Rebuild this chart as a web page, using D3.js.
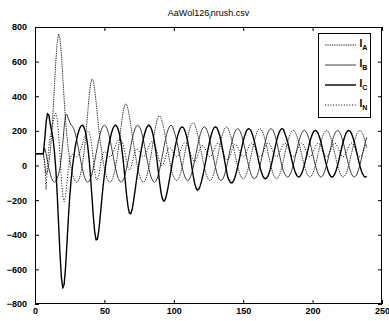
<!DOCTYPE html>
<html><head><meta charset="utf-8">
<script src="https://cdn.jsdelivr.net/npm/d3@7"></script>
<style>body{margin:0;background:#fff}svg{display:block}text{font-family:"Liberation Sans",Arial,sans-serif}</style>
</head><body><svg id="c" width="389" height="321"></svg>
<script>
// sample index = position in array (0..239)
const iA=[
68,68,68,68,68,68,68,10,-50,-38,
12,84,180,308,455,601,712,760,734,643,
515,382,263,170,95,36,-15,-49,-75,-91,
-97,-91,-75,-44,-1,55,125,212,307,398,
468,500,490,440,367,286,208,141,82,30,
-15,-49,-75,-91,-97,-91,-75,-46,-9,39,
95,158,224,285,331,355,353,327,284,232,
178,125,74,28,-15,-49,-75,-91,-97,-91,
-75,-48,-12,31,80,132,183,229,264,283,
286,271,243,206,163,117,71,26,-15,-49,
-66,-82,-87,-82,-66,-42,-9,31,73,117,
160,198,226,243,247,238,216,187,151,111,
69,28,-10,-42,-66,-82,-87,-82,-66,-42,
-10,28,68,108,146,178,202,218,223,218,
194,171,141,106,68,30,-5,-35,-58,-72,
-77,-72,-58,-35,-5,30,68,106,141,171,
194,208,213,208,194,171,141,106,68,30,
-5,-35,-58,-72,-77,-72,-58,-35,-5,30,
68,103,136,163,185,198,203,198,185,163,
136,103,68,33,1,-27,-49,-62,-67,-62,
-49,-27,1,33,68,103,136,163,185,198,
203,198,185,163,136,103,68,33,1,-27,
-49,-62,-67,-62,-49,-27,1,33,68,103,
136,163,185,198,203,198,185,163,136,103];
const iB=[
68,68,68,68,68,68,68,100,68,25,
-15,-49,-75,-91,-97,-91,-75,-49,-15,50,
128,221,291,295,271,252,233,227,211,185,
151,111,68,25,-15,-49,-75,-91,-97,-91,
-75,-49,-15,25,68,111,151,185,211,227,
233,227,211,185,151,111,68,25,-15,-49,
-75,-91,-97,-91,-75,-49,-15,25,68,111,
151,185,211,227,233,227,211,185,151,111,
68,25,-15,-49,-75,-91,-97,-91,-75,-49,
-15,25,68,111,151,185,211,227,233,227,
202,178,146,108,68,28,-10,-42,-66,-82,
-87,-82,-66,-42,-10,28,68,108,146,178,
202,218,223,218,202,178,146,108,68,28,
-10,-42,-66,-82,-87,-82,-66,-42,-10,28,
68,106,141,171,194,208,213,208,194,171,
141,106,68,30,-5,-35,-58,-72,-77,-72,
-58,-35,-5,30,68,106,141,171,194,208,
213,208,194,171,141,106,68,30,-5,-35,
-49,-62,-67,-62,-49,-27,1,33,68,103,
136,163,185,198,203,198,185,163,136,103,
68,33,1,-27,-49,-62,-67,-62,-49,-27,
1,33,68,103,136,163,185,198,203,198,
185,163,136,103,68,33,1,-27,-49,-62,
-67,-62,-49,-27,1,33,68,103,136,163];
const iC=[
68,68,68,68,68,68,68,150,250,300,
290,240,198,153,81,-22,-166,-336,-509,-644,
-708,-686,-591,-452,-309,-182,-85,-7,55,111,
151,185,211,227,233,227,204,167,112,36,
-63,-177,-292,-383,-430,-425,-374,-293,-206,-124,
-54,7,61,111,151,185,211,227,233,227,
207,175,129,69,-6,-89,-171,-237,-275,-279,
-253,-205,-149,-91,-37,15,64,111,151,185,
211,227,233,227,209,179,137,85,22,-45,
-111,-165,-198,-207,-193,-161,-121,-75,-29,19,
66,108,146,178,202,218,223,218,201,175,
139,95,44,-8,-60,-102,-130,-142,-137,-118,
-90,-55,-17,25,67,108,146,178,202,218,
223,218,201,176,143,102,57,11,-33,-70,
-88,-100,-100,-89,-69,-41,-8,28,67,106,
141,171,194,208,213,208,194,171,141,106,
68,30,-5,-35,-58,-72,-77,-72,-58,-35,
-5,30,68,106,141,171,194,208,213,208,
185,163,136,103,68,33,1,-27,-49,-62,
-67,-62,-49,-27,1,33,68,103,136,163,
185,198,203,198,185,163,136,103,68,33,
1,-27,-49,-62,-67,-62,-49,-27,1,33,
68,103,136,163,185,198,203,198,185,163,
136,103,68,33,1,-27,-49,-62,-67,-62];
const iN=[
68,68,68,68,68,68,68,20,-140,10,
110,169,204,249,286,302,270,184,55,-79,
-177,-209,-177,-102,-25,33,57,66,60,55,
50,55,70,94,121,148,168,187,198,194,
165,108,35,-36,-79,-85,-55,-4,42,72,
81,76,65,55,50,55,70,92,115,136,
147,153,148,134,105,66,23,-11,-25,-16,
13,50,79,96,93,82,67,55,50,55,
70,91,112,130,138,136,124,104,75,44,
18,1,2,19,47,77,98,106,99,85,
68,55,50,55,70,90,111,127,133,130,
115,95,70,47,30,25,32,52,76,100,
113,115,105,88,69,55,50,55,70,90,
110,125,129,123,108,85,62,42,33,34,
47,69,93,112,122,120,108,88,69,55,
50,55,70,90,110,125,130,125,110,90,
70,55,50,55,70,90,110,125,130,125,
110,90,70,55,50,55,70,90,110,125,
130,125,110,90,70,55,50,55,70,90,
110,125,130,125,110,90,70,55,50,55,
70,90,110,125,130,125,110,90,70,55,
50,55,70,90,110,125,130,125,110,90,
70,55,50,55,70,90,110,125,130,125,
110,90,70,55,50,55,70,90,110,125];
const seriesKeys=["A","B","C","N"];
const xTicks=[0,50,100,150,200,250];
const yTicks=[-800,-600,-400,-200,0,200,400,600,800];
const titleMain="AaWol126", titleSub="i", titleRest="nrush.csv";

const data={A:iA,B:iB,C:iC,N:iN};
const styles={
  A:{stroke:"#333",w:1,dash:"1.4,0.9"},
  B:{stroke:"#2a2a2a",w:0.9,dash:null},
  C:{stroke:"#000",w:1.4,dash:null},
  N:{stroke:"#000",w:1,dash:"1,1.7"}
};
const svg=d3.select("#c");
const L=35,R=382,T=27,B=304;
const x=d3.scaleLinear().domain([0,250]).range([L,R]);
const y=d3.scaleLinear().domain([-800,800]).range([B,T]);
svg.append("rect").attr("width",389).attr("height",321).attr("fill","#fff");

svg.append("clipPath").attr("id","pa").append("rect").attr("x",L).attr("y",T).attr("width",R-L).attr("height",B-T);
const line=d3.line().x((d,i)=>x(i)).y(d=>y(d));
const g=svg.append("g").attr("clip-path","url(#pa)");
seriesKeys.forEach(k=>{
  const s=styles[k];
  g.append("path").datum(data[k]).attr("d",line).attr("fill","none")
   .attr("stroke",s.stroke).attr("stroke-width",s.w)
   .attr("stroke-dasharray",s.dash).attr("stroke-linejoin","round");
});

function styleAxis(sel){
  sel.select(".domain").remove();
  sel.selectAll("line").attr("stroke","#000");
  sel.selectAll("text").attr("font-size",9).attr("font-weight","bold").attr("fill","#000").attr("font-family","'Liberation Sans',Arial,sans-serif");
}
svg.append("g").attr("transform",`translate(0,${B})`).call(d3.axisBottom(x).tickValues(xTicks).tickSize(-4).tickPadding(4)).call(styleAxis);
svg.append("g").attr("transform",`translate(0,${T})`).call(d3.axisTop(x).tickValues(xTicks).tickSize(-4).tickFormat("")).call(styleAxis);
svg.append("g").attr("transform",`translate(${L},0)`).call(d3.axisLeft(y).tickValues(yTicks).tickSize(-4).tickPadding(8)).call(styleAxis);
svg.append("g").attr("transform",`translate(${R},0)`).call(d3.axisRight(y).tickValues(yTicks).tickSize(-4).tickFormat("")).call(styleAxis);
svg.append("rect").attr("x",L+0.5).attr("y",T+0.5).attr("width",R-L-1).attr("height",B-T-1)
  .attr("fill","none").attr("stroke","#000").attr("stroke-width",1);

// title
const tt=svg.append("text").attr("x",(L+R)/2).attr("y",16).attr("text-anchor","middle").attr("font-size",9).attr("fill","#000");
tt.append("tspan").text(titleMain);
tt.append("tspan").attr("font-size",6.5).attr("dy",3).text(titleSub);
tt.append("tspan").attr("dy",-3).text(titleRest);

// legend
const lg=svg.append("g");
lg.append("rect").attr("x",318.5).attr("y",33.5).attr("width",52).attr("height",84).attr("fill","#fff").attr("stroke","#000");
seriesKeys.forEach((k,i)=>{
  const yy=45+i*20, s=styles[k];
  lg.append("line").attr("x1",325).attr("x2",356).attr("y1",yy).attr("y2",yy)
    .attr("stroke",s.stroke).attr("stroke-width",s.w).attr("stroke-dasharray",s.dash);
  const t=lg.append("text").attr("x",359.5).attr("y",yy+2).attr("font-size",10).attr("font-weight","bold").attr("fill","#000");
  t.append("tspan").text("I");
  t.append("tspan").attr("font-size",7).attr("dy",3).text(k);
});
</script></body></html>
